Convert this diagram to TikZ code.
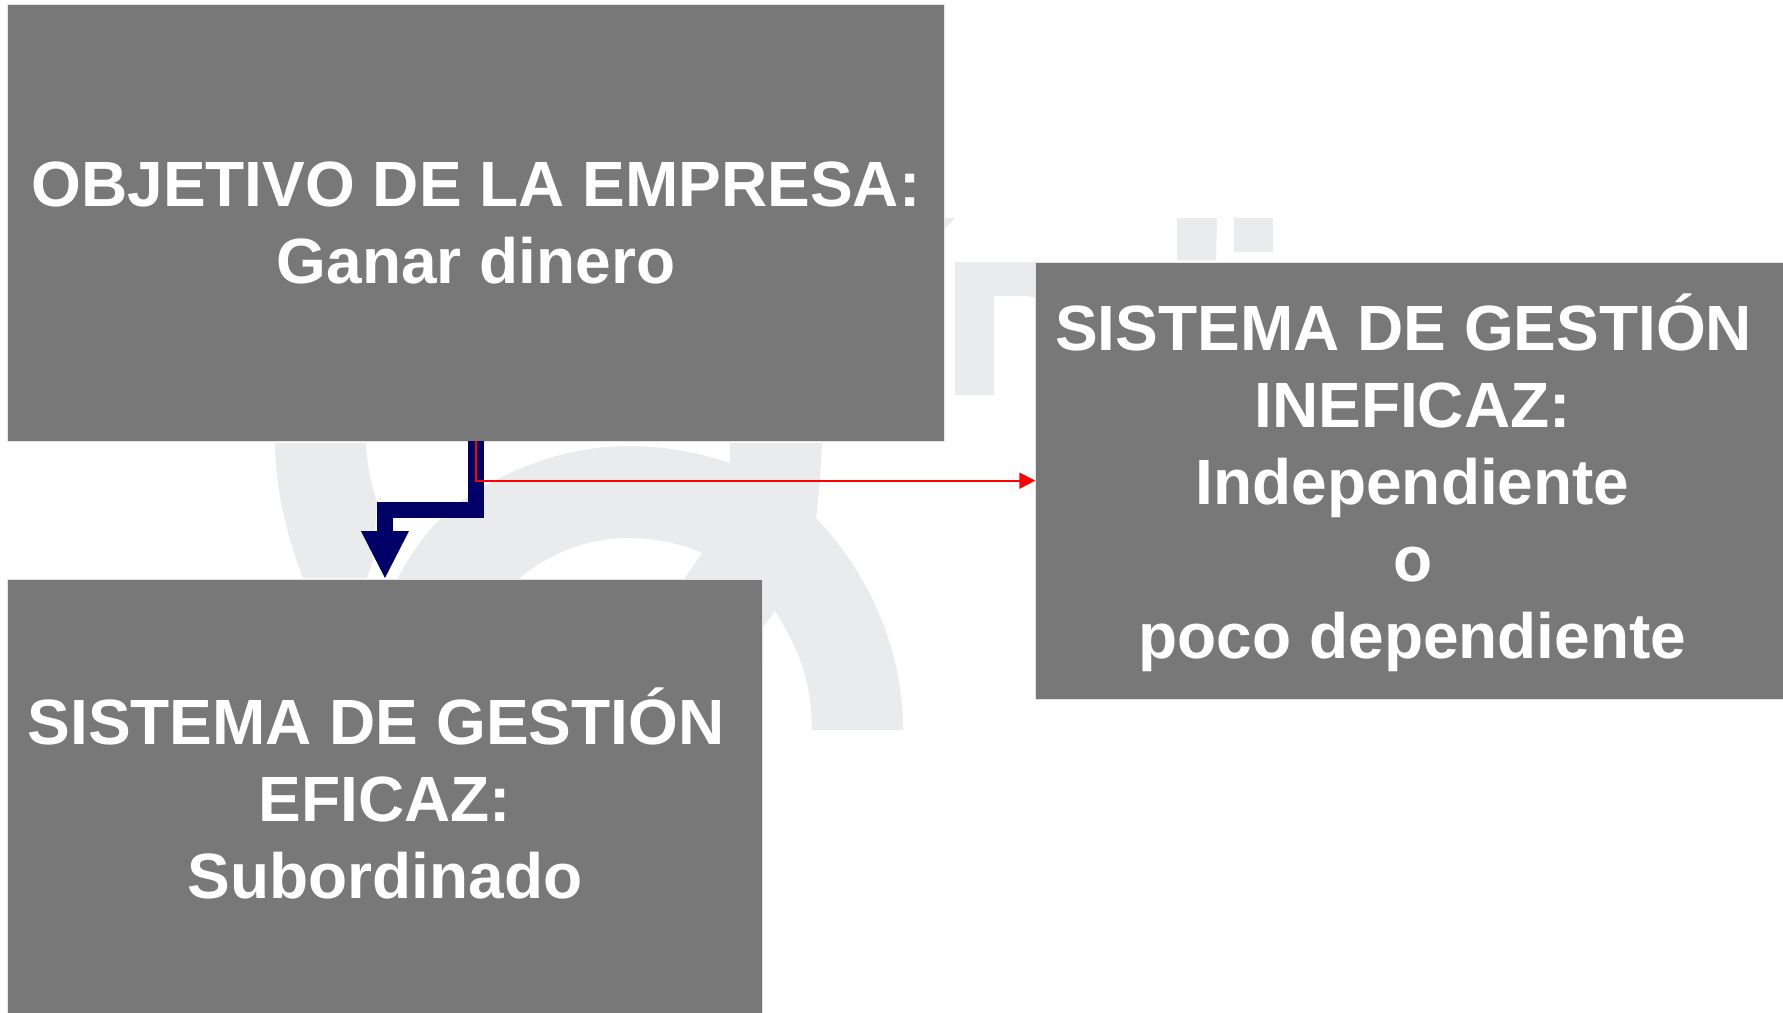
\documentclass[tikz,border=0pt]{standalone}
\usepackage{fontspec}
\setmainfont{Liberation Sans}
\usetikzlibrary{arrows.meta,positioning}
\definecolor{cajagris}{HTML}{787878}
\definecolor{fondogris}{HTML}{EAEBED}
\definecolor{azulflecha}{HTML}{000066}

\begin{document}
\begin{tikzpicture}[
    x = 0.01cm, % one unit is one pixel of the reference
    y = -0.01cm,
    caja/.style = {
        draw = white!80!cajagris,
        line width = 0.2pt,
        fill = cajagris,
        text = white,
        align = center,
        inner sep = 0pt,
        outer sep = 0pt,
        font = \bfseries\fontsize{18.2}{21.9}\selectfont
    },
    fondo/.style = {fill = fondogris, draw = none},
    principal/.style = {azulflecha, line width = 0.16cm, -{Triangle[length=4.8mm,width=4.4mm]}},
    secundaria/.style = {red, line width = 0.5pt, -{Triangle[length=1.6mm,width=1.6mm]}}
    ]

    \path[use as bounding box, clip] (0,0) rectangle (1783,1012);
    \fill[white] (0,0) rectangle (1783,1012);

    % background marks
    \fill[fondo] (275,443) .. controls (276,490) and (285,530) .. (303,578) -- (367,578) -- (373,560)
        -- (377,502) .. controls (370,480) and (367,465) .. (366,443) -- cycle;
    \fill[fondo] (398,578) .. controls (420,535) and (450,505) .. (483,487)
        .. controls (530,460) and (580,446) .. (630,446) .. controls (665,446) and (700,453) .. (730,463)
        -- (730,443) -- (822,443) -- (820,480) -- (816,518)
        .. controls (870,575) and (903,650) .. (903,730) -- (812,730)
        .. controls (812,685) and (800,650) .. (775,611) -- (763,627) -- (763,660) -- (690,660)
        -- (685,578) -- (702,553) .. controls (680,543) and (655,538) .. (627,538)
        .. controls (590,538) and (550,552) .. (520,578) -- (500,660) -- (398,660) -- cycle;
    \fill[fondo] (1177,218) -- (1217,218) -- (1216,260) -- (1177,260) -- cycle;
    \fill[fondo] (1234,218) rectangle (1273,252);
    \fill[fondo] (955,262) -- (1037,262) -- (1037,298) -- (1027,296) -- (994,296) -- (994,395) -- (955,395) -- cycle;
    \fill[fondo] (945,218) -- (955,218) -- (945,228) -- cycle;

    \node[caja, minimum width=9.36cm, minimum height=4.37cm] (obj) at (476,222.5)
        {OBJETIVO DE LA EMPRESA:\\Ganar dinero};
    \node[caja, minimum width=7.54cm, minimum height=4.38cm, text depth=1.1mm] (efi) [below=1.38cm of obj.south west, anchor=north west]
        {SISTEMA DE GESTIÓN~\mbox{}\\EFICAZ:\\Subordinado};
    \node[caja, minimum width=7.54cm, minimum height=4.37cm, text depth=0.9mm] (inef) [right=0.91cm of obj.north east, anchor=north west, yshift=-2.58cm]
        {SISTEMA DE GESTIÓN~\mbox{}\\INEFICAZ:\\Independiente\\o\\poco dependiente};

    \draw[principal] (obj.south) -- ++(0,69) -| (efi.north);
    \draw[secundaria] (obj.south) |- (inef.west);
\end{tikzpicture}
\end{document}
